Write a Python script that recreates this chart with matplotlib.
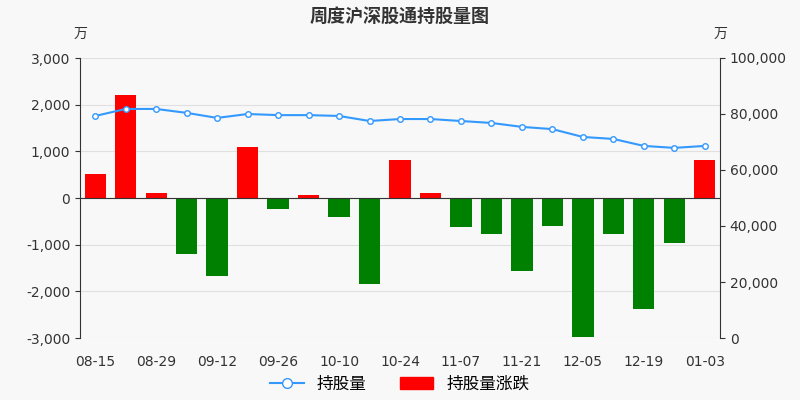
import numpy as np
import matplotlib.pyplot as plt

dates = ['08-15', '08-22', '08-29', '09-05', '09-12', '09-19', '09-26', '10-03', '10-10', '10-17', '10-24',
         '10-31', '11-07', '11-14', '11-21', '11-28', '12-05', '12-12', '12-19', '12-26', '01-03']
change = [520, 2200, 100, -1200, -1680, 1100, -230, 60, -400, -1850, 820,
          100, -620, -780, -1570, -600, -2980, -770, -2380, -960, 810]
holding = [79300, 81800, 81800, 80400, 78600, 80000, 79600, 79600, 79300, 77500, 78200,
           78200, 77500, 76800, 75400, 74600, 71800, 71100, 68600, 67900, 68600]

fig = plt.figure(figsize=(8, 4), dpi=100, facecolor='#f8f8f8')
ax = fig.add_axes([0.1, 0.155, 0.8, 0.7])
ax.set_facecolor('#f8f8f8')
x = np.arange(len(dates))
colors = ['#ff0000' if v >= 0 else '#008000' for v in change]
ax.bar(x, change, width=0.7, color=colors, zorder=2)
ax.set_ylim(-3000, 3000)
ax.set_yticks(range(-3000, 3001, 1000))
ax.set_yticklabels([f'{v:,}' for v in range(-3000, 3001, 1000)])
ax.set_xlim(-0.5, len(dates) - 0.5)
ax.set_xticks(x[::2])
ax.set_xticklabels(dates[::2])
ax.grid(axis='y', color='#e0e0e0', zorder=0)
ax.axhline(0, color='#333333', lw=0.8, zorder=3)
for s in ['top', 'right', 'bottom']:
    ax.spines[s].set_visible(False)
ax.spines['left'].set_color('#333333')
ax.tick_params(colors='#333333', labelsize=10)
ax.tick_params(axis='x', length=0, pad=12)

ax2 = ax.twinx()
ax2.plot(x, holding, color='#3399ff', lw=1.5, marker='o', ms=4, mfc='white', mec='#3399ff', zorder=4)
ax2.set_ylim(0, 100000)
ax2.set_yticks(range(0, 100001, 20000))
ax2.set_yticklabels([f'{v:,}' for v in range(0, 100001, 20000)])
for s in ['top', 'left', 'bottom']:
    ax2.spines[s].set_visible(False)
ax2.spines['right'].set_color('#333333')
ax2.tick_params(colors='#333333', labelsize=10)

plt.rcParams['font.family'] = ['Noto Sans CJK SC', 'DejaVu Sans']
fam = ['Noto Sans CJK SC', 'DejaVu Sans']
fig.text(0.5, 0.96, '周度沪深股通持股量图', ha='center', va='center', fontsize=13, fontweight='bold', color='#333333', family=fam)
fig.text(0.1, 0.905, '万', ha='center', fontsize=10, color='#333333', family=fam)
fig.text(0.9, 0.905, '万', ha='center', fontsize=10, color='#333333', family=fam)

from matplotlib.lines import Line2D
from matplotlib.patches import Patch
handles = [Line2D([], [], color='#3399ff', marker='o', mfc='white', ms=7),
           Patch(color='#ff0000')]
fig.legend(handles, ['持股量', '持股量涨跌'], loc='lower center', ncol=2, frameon=False,
           bbox_to_anchor=(0.5, -0.02), prop={'family': fam, 'size': 12}, handlelength=2)
fig.savefig('out.png', facecolor=fig.get_facecolor())
